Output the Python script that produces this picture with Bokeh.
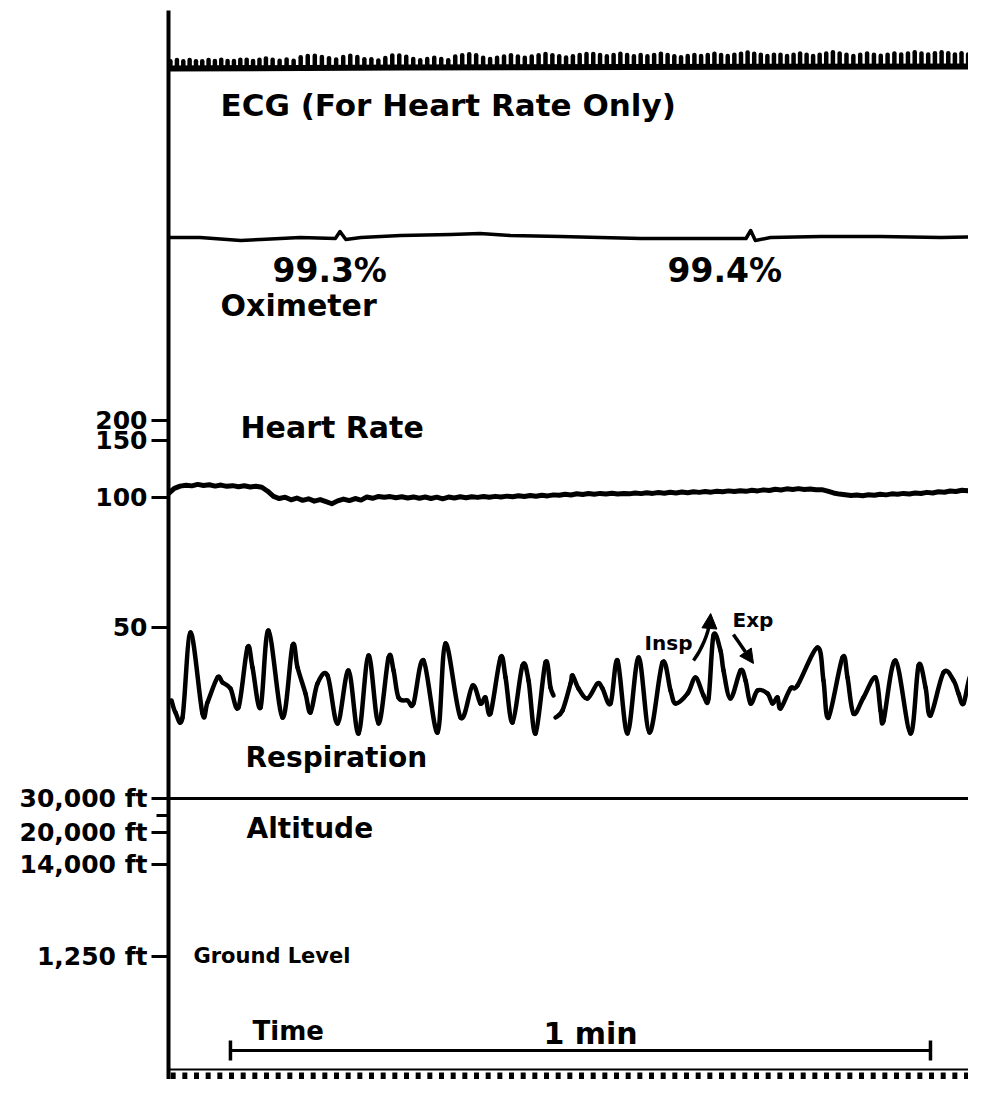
import numpy as np
from bokeh.plotting import figure
from bokeh.models import Range1d, FixedTicker, Label, Arrow, NormalHead, AllLabels
from bokeh.embed import file_html
from bokeh.resources import INLINE

# ---------------- data ----------------
# time axis: seconds from the left edge of the record

# Heart rate (beats/min), one reading every 0.5 s
hr_t = [i * 0.5 for i in range(141)]
hr_bpm = [
    103.5, 108.0, 110.0, 110.8, 110.2, 111.5, 110.6, 111.2, 110.0, 110.9,
    109.8, 110.4, 109.5, 110.3, 109.2, 109.9, 109.0, 105.5, 101.0, 99.6,
    100.3, 99.1, 99.8, 98.9, 99.5, 98.6, 99.2, 98.4, 97.6, 98.7,
    99.4, 98.8, 99.6, 99.0, 100.4, 99.7, 100.9, 100.2, 100.8, 99.9,
    100.6, 99.8, 100.5, 99.7, 100.4, 99.6, 100.3, 99.5, 100.4, 99.8,
    100.6, 99.9, 100.7, 100.1, 100.9, 100.2, 101.0, 100.4, 101.2, 100.6,
    101.5, 100.9, 101.7, 101.1, 102.0, 101.4, 102.3, 101.9, 102.8, 102.2,
    103.3, 102.7, 103.5, 102.9, 103.6, 103.0, 103.7, 103.1, 103.6, 103.2,
    104.0, 103.4, 104.2, 103.6, 104.3, 103.8, 104.6, 104.0, 104.8, 104.2,
    105.1, 104.5, 105.3, 104.7, 105.5, 105.0, 105.8, 105.2, 106.0, 105.4,
    106.3, 105.8, 106.7, 106.1, 107.2, 106.6, 107.6, 107.0, 107.8, 107.1,
    107.5, 106.8, 106.9, 105.6, 104.0, 103.0, 102.4, 101.8, 102.2, 101.6,
    102.4, 102.0, 102.9, 102.3, 103.2, 102.8, 103.6, 103.1, 104.0, 103.5,
    104.5, 104.0, 105.1, 104.6, 105.7, 105.3, 106.4, 106.0, 107.2, 107.8,
    108.3,
]

# Oximeter saturation (%)
oxi_t = [0.0, 2.7, 6.2, 7.9, 11.3, 14.3, 14.7, 15.2, 16.5, 19.9, 24.2, 26.7,
         29.3, 33.6, 37.0, 40.5, 45.6, 49.5, 49.9, 50.3, 51.6, 55.9, 61.0,
         66.2, 70.0]
oxi_spo2 = [99.35, 99.35, 99.29, 99.31, 99.35, 99.33, 99.47, 99.31, 99.35,
            99.39, 99.41, 99.43, 99.39, 99.37, 99.35, 99.33, 99.33, 99.33,
            99.49, 99.29, 99.35, 99.37, 99.37, 99.35, 99.37]
oxi_readings = ["99.3%", "99.4%"]

# Respiration (pneumograph deflection, arbitrary units; + = inspiration)
resp_t = [0.26, 0.60, 1.20, 1.89, 2.91, 3.34, 4.20, 4.63, 5.31, 6.00,
          6.77, 7.20, 7.89, 8.57, 9.77, 10.63, 11.06, 11.74, 12.17, 12.77,
          13.63, 14.49, 15.43, 16.29, 17.14, 18.00, 18.86, 19.29, 19.71, 20.49,
          21.00, 21.86, 23.06, 23.74, 25.03, 26.06, 26.74, 27.17, 27.60, 28.46,
          28.89, 29.49, 30.34, 30.86, 31.46, 32.31, 32.74, 33.00, 33.08, 33.17,
          33.77, 34.46, 34.63, 35.14, 35.91, 36.77, 37.20, 37.89, 38.49, 39.34,
          40.29, 41.23, 42.34, 43.03, 43.46, 44.49, 45.17, 45.86, 46.29, 46.71,
          47.31, 47.57, 48.17, 49.03, 49.46, 49.89, 50.49, 51.34, 51.77, 52.20,
          52.46, 53.31, 53.91, 55.63, 56.14, 56.57, 57.77, 58.20, 58.71, 59.57,
          60.60, 61.03, 61.29, 62.31, 63.60, 64.29, 64.89, 65.31, 66.43, 67.29,
          67.71, 68.14, 68.74, 69.34, 69.77]
resp_v = [0, -12, -17, 68, -13, -2, 23, 18, 12, -7,
          53, 33, -7, 70, -17, 55, 33, 7, -12, 17,
          25, -23, 30, -33, 45, -23, 43, 30, 3, 0,
          -3, 40, -32, 57, -17, 15, -3, 3, -13, 43,
          23, -22, 35, 20, -33, 38, 13, 5, float("nan"), -17,
          -10, 17, 25, 12, 2, 17, 12, -3, 40, -33,
          43, -32, 38, 10, -3, 7, 23, 5, 2, 65,
          50, 30, 2, 30, 20, -3, 10, 7, -3, 3,
          -8, 12, 15, 53, 20, -17, 43, 23, -13, 3,
          23, -10, -20, 40, -33, 35, 13, -15, 28, 20,
          7, -3, 25, 10, -3]

# Altitude (ft) - chamber held at 30,000 ft during the record
alt_t = [0.0, 70.0]
alt_ft = [30000, 30000]

# ECG: beat-to-beat R-wave heights (arbitrary units)
ecg_amp = [
    6, 7, 6, 7, 6, 6, 7, 6, 7, 6,
    6, 7, 7, 6, 7, 8, 7, 6, 7, 6,
    9, 10, 10, 9, 8, 7, 9, 10, 9, 7,
    7, 6, 8, 10, 10, 9, 7, 6, 7, 8,
    7, 6, 9, 10, 11, 10, 8, 7, 8, 9,
    10, 9, 8, 9, 10, 11, 10, 9, 8, 9,
    10, 11, 11, 10, 9, 10, 11, 10, 9, 10,
    9, 10, 11, 10, 9, 8, 9, 10, 9, 10,
    11, 10, 9, 10, 11, 12, 11, 10, 9, 10,
    10, 9, 10, 11, 10, 9, 10, 11, 12, 11,
    10, 9, 10, 11, 10, 9, 10, 11, 10, 11,
    12, 11, 10, 11, 12, 11, 10, 11, 10, 11,
    10, 11, 10, 11, 10, 11, 10, 11, 10, 11,
]
ecg_base_t = [0, 20, 40, 70]
ecg_base_v = [0, 1, 1.5, 2]

# one-second timer marks along the bottom edge of the paper
timer_marks_t = list(np.arange(0.4, 69.0, 1.0))

# Calibration scales printed on the left margin
hr_scale_bpm = [50, 100, 150, 200]
hr_scale_labels = ["50", "100", "150", "200"]
alt_scale_ft = [1250, 14000, 20000, 30000]
alt_scale_labels = ["1,250 ft", "14,000 ft", "20,000 ft", "30,000 ft"]
alt_minor_ft = [25000]
time_bar_min = 1

# ---------------- layout (vertical chart positions of each channel) ----------------
HR_SCALE_Y = [627, 497, 440, 420]
ALT_SCALE_FT_ALL = [1250, 14000, 20000, 25000, 30000]
ALT_SCALE_Y = [956, 864, 832, 815, 798]
ECG_Y0, ECG_GAIN = 68, 1.2
OXI_Y0, OXI_REF, OXI_GAIN = 237, 99.35, 50.0
RESP_Y0 = 700
PAPER_EDGE_Y, MARK_TOP, MARK_BOT = 1069, 1072, 1081
BLACK = "black"
FONT = "DejaVu Sans"
X_END = (968 - 168) / 11.667


def hr_y(v):
    return np.interp(v, hr_scale_bpm, HR_SCALE_Y)


def alt_y(v):
    return np.interp(v, ALT_SCALE_FT_ALL, ALT_SCALE_Y)


def oxi_y(v):
    return OXI_Y0 - (np.asarray(v, dtype=float) - OXI_REF) * OXI_GAIN


def resp_y(v):
    return RESP_Y0 - np.asarray(v, dtype=float)


p = figure(width=968, height=1079, x_range=Range1d(0, X_END), y_range=Range1d(1079, 10),
           output_backend="svg", toolbar_location=None, x_axis_location=None,
           min_border_left=168, min_border_right=0, min_border_top=10, min_border_bottom=0)
p.xgrid.visible = False
p.ygrid.visible = False
p.outline_line_color = None
p.background_fill_color = "white"
p.border_fill_color = "white"

# left axis: heart-rate and altitude calibration marks
ticks = [int(round(float(hr_y(v)))) for v in hr_scale_bpm] + \
        [int(round(float(alt_y(v)))) for v in alt_scale_ft]
labels = hr_scale_labels + alt_scale_labels
minor = [int(round(float(alt_y(v)))) for v in alt_minor_ft]
yax = p.yaxis[0]
yax.ticker = FixedTicker(ticks=ticks, minor_ticks=minor)
yax.major_label_overrides = {t: l for t, l in zip(ticks, labels)}
yax.major_label_policy = AllLabels()
yax.axis_line_width = 4
yax.axis_line_color = BLACK
yax.major_tick_line_width = 3
yax.major_tick_line_color = BLACK
yax.major_tick_out = 17
yax.major_tick_in = 0
yax.minor_tick_line_color = BLACK
yax.minor_tick_line_width = 3
yax.minor_tick_out = 12
yax.minor_tick_in = 0
yax.major_label_standoff = 4
yax.major_label_text_font = FONT
yax.major_label_text_font_style = "bold"
yax.major_label_text_font_size = "25px"
yax.major_label_text_color = BLACK

# paper edge with the one-second timer marks
p.segment(x0=[0], y0=[PAPER_EDGE_Y], x1=[X_END], y1=[PAPER_EDGE_Y], line_width=2, color=BLACK)
p.segment(x0=timer_marks_t, y0=[MARK_TOP] * len(timer_marks_t), x1=timer_marks_t,
          y1=[MARK_BOT] * len(timer_marks_t), line_width=5, color=BLACK)

# ---- ECG ----
tt = np.linspace(0, 70, 7001)
hr_f = np.interp(tt, hr_t, hr_bpm)
cum = np.cumsum(hr_f / 60.0) * (tt[1] - tt[0])
beat_t = np.interp(np.arange(0.3, cum[-1]), cum, tt)
n = len(beat_t)
amps = np.array(ecg_amp[:n], dtype=float) * ECG_GAIN
base_at_beats = ECG_Y0 - np.interp(beat_t, ecg_base_t, ecg_base_v)
p.line(ecg_base_t, ECG_Y0 - np.array(ecg_base_v), line_width=6, color=BLACK)
p.segment(x0=beat_t, y0=base_at_beats, x1=beat_t, y1=base_at_beats - amps,
          line_width=4.5, line_cap="round", color=BLACK)

# ---- Oximeter ----
p.line(oxi_t, oxi_y(oxi_spo2), line_width=3.5, color=BLACK, line_join="round")

# ---- Heart rate ----
p.line(hr_t, hr_y(hr_bpm), line_width=5, color=BLACK, line_join="round")


# ---- Respiration: smooth pen trace (Catmull-Rom curves through the readings) ----
def smooth_runs(xs, ys):
    xs = np.asarray(xs, float)
    ys = np.asarray(ys, float)
    ok = ~np.isnan(ys)
    runs, cur = [], []
    for i in range(len(xs)):
        if ok[i]:
            cur.append(i)
        elif cur:
            runs.append(cur)
            cur = []
    if cur:
        runs.append(cur)
    seg = {k: [] for k in ("x0", "y0", "x1", "y1", "cx0", "cy0", "cx1", "cy1")}
    for r in runs:
        X, Y = xs[r], ys[r]
        m = len(X)
        for i in range(m - 1):
            a, b = max(i - 1, 0), min(i + 2, m - 1)
            seg["x0"].append(X[i]); seg["y0"].append(Y[i])
            seg["x1"].append(X[i + 1]); seg["y1"].append(Y[i + 1])
            seg["cx0"].append(X[i] + (X[i + 1] - X[a]) / 6)
            seg["cy0"].append(Y[i] + (Y[i + 1] - Y[a]) / 6)
            seg["cx1"].append(X[i + 1] - (X[b] - X[i]) / 6)
            seg["cy1"].append(Y[i + 1] - (Y[b] - Y[i]) / 6)
    return seg


p.bezier(**smooth_runs(resp_t, resp_y(resp_v)), line_width=4.5, line_cap="round", color=BLACK)

# ---- Altitude ----
p.line(alt_t, alt_y(alt_ft), line_width=3, color=BLACK)

# ---- Time bar (1 min) ----
tb0 = 5.31
tb1 = tb0 + 60 * time_bar_min
p.segment(x0=[tb0], y0=[1050], x1=[tb1], y1=[1050], line_width=3, color=BLACK)
p.segment(x0=[tb0, tb1], y0=[1040, 1040], x1=[tb0, tb1], y1=[1060, 1060], line_width=3.5, color=BLACK)


def label(x, y, text, size, align="left"):
    p.add_layout(Label(x=x, y=y, text=text, text_font=FONT, text_font_style="bold",
                       text_font_size=size, text_color=BLACK, text_baseline="middle",
                       text_align=align))


label(4.46, 104, "ECG (For Heart Rate Only)", "31px")
label(8.91, 270, oxi_readings[0], "33px")
label(42.77, 270, oxi_readings[1], "33px")
label(4.46, 305, "Oximeter", "30px")
label(6.17, 427, "Heart Rate", "30px")
label(6.60, 757, "Respiration", "28px")
label(6.69, 828, "Altitude", "28px")
label(2.14, 955, "Ground Level", "21px")
label(7.20, 1030, "Time", "26px")
label(32.14, 1033, "1 min", "30px")

# inspiration / expiration arrows, placed on the large breath
mask = np.array(resp_t) > 40
rt = np.array(resp_t)[mask]
rv = np.array(resp_v)[mask]
k = int(np.nanargmax(rv))
pk_t, pk_y = rt[k], float(resp_y(rv[k]))
label(pk_t - 1.8, pk_y + 7, "Insp", "20px", align="right")
label(pk_t + 1.63, pk_y - 16, "Exp", "20px")
# Insp: curved shaft + head
p.bezier(x0=[pk_t - 1.71], y0=[pk_y + 25], x1=[pk_t - 0.30], y1=[pk_y - 14],
         cx0=[pk_t - 1.0], cy0=[pk_y + 14], cx1=[pk_t - 0.45], cy1=[pk_y - 2],
         line_width=3.5, color=BLACK)
p.add_layout(Arrow(end=NormalHead(size=15, fill_color=BLACK, line_color=BLACK),
                   x_start=pk_t - 0.31, y_start=pk_y - 12, x_end=pk_t - 0.24, y_end=pk_y - 22,
                   line_width=0, line_color=BLACK))
# Exp
p.add_layout(Arrow(end=NormalHead(size=14, fill_color=BLACK, line_color=BLACK),
                   x_start=pk_t + 1.71, y_start=pk_y - 1, x_end=pk_t + 3.43, y_end=pk_y + 28,
                   line_width=3.5, line_color=BLACK))

open("out.html", "w").write(file_html(p, INLINE))
